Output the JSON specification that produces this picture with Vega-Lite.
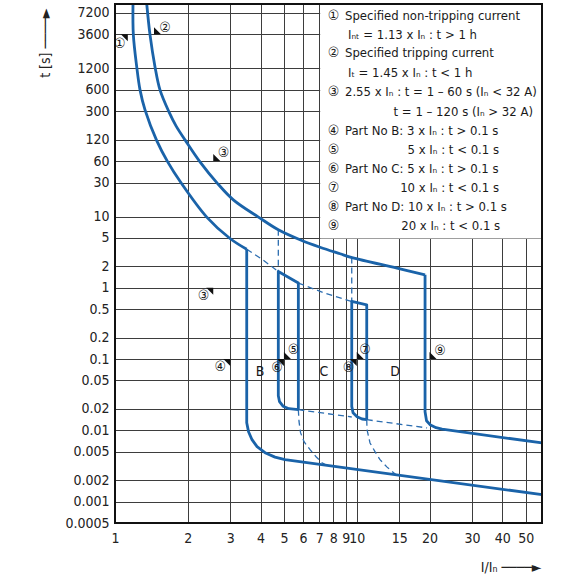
{
  "$schema": "https://vega.github.io/schema/vega-lite/v6.json",
  "width": 427,
  "height": 519,
  "autosize": "none",
  "padding": {"left": 115, "top": 4, "right": 38, "bottom": 57},
  "background": "white",
  "config": {
    "view": {"stroke": null},
    "font": "Liberation Sans Narrow, DejaVu Sans Condensed, Liberation Sans, sans-serif"
  },
  "datasets": {
    "box": [{"I": 7.06, "I2": 58.4, "t": 4.9, "t2": 9600}],
    "frame": [{"I": 1, "I2": 58.4, "t": 0.0005, "t2": 9600}],
    "curves": [
      {"s": "minTc", "st": "c", "o": 1, "I": 1.187, "t": 9600},
      {"s": "minTc", "st": "c", "o": 2, "I": 1.191, "t": 3535},
      {"s": "minTc", "st": "c", "o": 3, "I": 1.23, "t": 1258},
      {"s": "minTc", "st": "c", "o": 4, "I": 1.269, "t": 598.4},
      {"s": "minTc", "st": "c", "o": 5, "I": 1.331, "t": 313.7},
      {"s": "minTc", "st": "c", "o": 6, "I": 1.488, "t": 116.4},
      {"s": "minTc", "st": "c", "o": 7, "I": 1.652, "t": 58.5},
      {"s": "minTc", "st": "c", "o": 8, "I": 1.876, "t": 29.7},
      {"s": "minTc", "st": "c", "o": 9, "I": 2.396, "t": 9.81},
      {"s": "minTc", "st": "c", "o": 10, "I": 2.991, "t": 4.913},
      {"s": "minTc", "st": "c", "o": 11, "I": 3.507, "t": 3.467},
      {"s": "minTl", "st": "s", "o": 1, "I": 3.507, "t": 3.467},
      {"s": "minTl", "st": "s", "o": 2, "I": 3.507, "t": 0.01278},
      {"s": "minTl", "st": "s", "o": 3, "I": 3.568, "t": 0.00956},
      {"s": "minTl", "st": "s", "o": 4, "I": 3.688, "t": 0.00738},
      {"s": "minTl", "st": "s", "o": 5, "I": 3.869, "t": 0.00589},
      {"s": "minTl", "st": "s", "o": 6, "I": 4.175, "t": 0.00485},
      {"s": "minTl", "st": "s", "o": 7, "I": 4.591, "t": 0.0042},
      {"s": "minTl", "st": "s", "o": 8, "I": 5.05, "t": 0.00387},
      {"s": "minTl", "st": "s", "o": 9, "I": 58.4, "t": 0.00125},
      {"s": "maxTc", "st": "c", "o": 1, "I": 1.353, "t": 9600},
      {"s": "maxTc", "st": "c", "o": 2, "I": 1.396, "t": 3535},
      {"s": "maxTc", "st": "c", "o": 3, "I": 1.464, "t": 1258},
      {"s": "maxTc", "st": "c", "o": 4, "I": 1.535, "t": 598.4},
      {"s": "maxTc", "st": "c", "o": 5, "I": 1.672, "t": 294},
      {"s": "maxTc", "st": "c", "o": 6, "I": 1.788, "t": 187.3},
      {"s": "maxTc", "st": "c", "o": 7, "I": 1.955, "t": 117},
      {"s": "maxTc", "st": "c", "o": 8, "I": 2.247, "t": 58.5},
      {"s": "maxTc", "st": "c", "o": 9, "I": 2.642, "t": 29.7},
      {"s": "maxTc", "st": "c", "o": 10, "I": 3.087, "t": 17.15},
      {"s": "maxTc", "st": "c", "o": 11, "I": 3.906, "t": 9.9},
      {"s": "maxTc", "st": "c", "o": 12, "I": 4.738, "t": 6.507},
      {"s": "maxTc", "st": "c", "o": 13, "I": 5.827, "t": 4.712},
      {"s": "maxTc", "st": "c", "o": 14, "I": 7.05, "t": 3.699},
      {"s": "maxTc", "st": "c", "o": 15, "I": 8.531, "t": 2.999},
      {"s": "maxTc", "st": "c", "o": 16, "I": 9.563, "t": 2.652},
      {"s": "maxTc", "st": "c", "o": 17, "I": 14.68, "t": 1.889},
      {"s": "maxTc", "st": "c", "o": 18, "I": 19.17, "t": 1.522},
      {"s": "maxTl", "st": "s", "o": 1, "I": 19.17, "t": 1.522},
      {"s": "maxTl", "st": "s", "o": 2, "I": 19.17, "t": 0.01823},
      {"s": "maxTl", "st": "s", "o": 3, "I": 19.44, "t": 0.01363},
      {"s": "maxTl", "st": "s", "o": 4, "I": 20.1, "t": 0.01198},
      {"s": "maxTl", "st": "s", "o": 5, "I": 21.29, "t": 0.01088},
      {"s": "maxTl", "st": "s", "o": 6, "I": 22.54, "t": 0.01036},
      {"s": "maxTl", "st": "s", "o": 7, "I": 58.4, "t": 0.00664},
      {"s": "S3", "st": "s", "o": 1, "I": 5.734, "t": 0.01945},
      {"s": "S3", "st": "s", "o": 2, "I": 5.734, "t": 1.164},
      {"s": "S3", "st": "s", "o": 3, "I": 4.738, "t": 1.693},
      {"s": "S3", "st": "s", "o": 4, "I": 4.738, "t": 0.03057},
      {"s": "S3", "st": "s", "o": 5, "I": 4.793, "t": 0.02518},
      {"s": "S3", "st": "s", "o": 6, "I": 4.955, "t": 0.02178},
      {"s": "S3", "st": "s", "o": 7, "I": 5.246, "t": 0.02009},
      {"s": "S3", "st": "s", "o": 8, "I": 5.734, "t": 0.01945},
      {"s": "S4", "st": "s", "o": 1, "I": 11.0, "t": 0.01408},
      {"s": "S4", "st": "s", "o": 2, "I": 11.0, "t": 0.5774},
      {"s": "S4", "st": "s", "o": 3, "I": 9.536, "t": 0.6424},
      {"s": "S4", "st": "s", "o": 4, "I": 9.536, "t": 0.02164},
      {"s": "S4", "st": "s", "o": 5, "I": 9.654, "t": 0.01765},
      {"s": "S4", "st": "s", "o": 6, "I": 10.03, "t": 0.01551},
      {"s": "S4", "st": "s", "o": 7, "I": 10.52, "t": 0.0144},
      {"s": "S4", "st": "s", "o": 8, "I": 11.0, "t": 0.01408},
      {"s": "DA", "st": "d", "o": 1, "I": 3.507, "t": 3.467},
      {"s": "DA", "st": "d", "o": 2, "I": 4.057, "t": 2.51},
      {"s": "DA", "st": "d", "o": 3, "I": 4.738, "t": 1.693},
      {"s": "DB", "st": "d", "o": 1, "I": 5.734, "t": 1.164},
      {"s": "DB", "st": "d", "o": 2, "I": 7.395, "t": 0.8373},
      {"s": "DB", "st": "d", "o": 3, "I": 9.536, "t": 0.6424},
      {"s": "DC", "st": "d", "o": 1, "I": 4.738, "t": 6.507},
      {"s": "DC", "st": "d", "o": 2, "I": 4.738, "t": 1.693},
      {"s": "DD", "st": "d", "o": 1, "I": 9.536, "t": 2.66},
      {"s": "DD", "st": "d", "o": 2, "I": 9.536, "t": 0.6424},
      {"s": "DE1", "st": "d", "o": 1, "I": 5.734, "t": 0.01945},
      {"s": "DE1", "st": "d", "o": 2, "I": 9.536, "t": 0.01536},
      {"s": "DE2", "st": "d", "o": 1, "I": 11.0, "t": 0.01408},
      {"s": "DE2", "st": "d", "o": 2, "I": 19.54, "t": 0.0108},
      {"s": "DF", "st": "d", "o": 1, "I": 5.734, "t": 0.01945},
      {"s": "DF", "st": "d", "o": 2, "I": 5.772, "t": 0.0132},
      {"s": "DF", "st": "d", "o": 3, "I": 5.855, "t": 0.00926},
      {"s": "DF", "st": "d", "o": 4, "I": 6.054, "t": 0.00692},
      {"s": "DF", "st": "d", "o": 5, "I": 6.411, "t": 0.00534},
      {"s": "DF", "st": "d", "o": 6, "I": 6.787, "t": 0.00426},
      {"s": "DF", "st": "d", "o": 7, "I": 7.187, "t": 0.00351},
      {"s": "DF", "st": "d", "o": 8, "I": 7.466, "t": 0.00324},
      {"s": "DG", "st": "d", "o": 1, "I": 11.0, "t": 0.01408},
      {"s": "DG", "st": "d", "o": 2, "I": 11.03, "t": 0.0102},
      {"s": "DG", "st": "d", "o": 3, "I": 11.35, "t": 0.00664},
      {"s": "DG", "st": "d", "o": 4, "I": 11.9, "t": 0.00501},
      {"s": "DG", "st": "d", "o": 5, "I": 12.48, "t": 0.00387},
      {"s": "DG", "st": "d", "o": 6, "I": 13.35, "t": 0.00304},
      {"s": "DG", "st": "d", "o": 7, "I": 14.54, "t": 0.00238}
    ],
    "markers": [
      {"I": 1.13, "t": 3600, "d": "ur"},
      {"I": 1.45, "t": 3600, "d": "ll"},
      {"I": 2.55, "t": 60, "d": "ll"},
      {"I": 2.55, "t": 1, "d": "ur"},
      {"I": 3, "t": 0.1, "d": "ur"},
      {"I": 5, "t": 0.1, "d": "ll"},
      {"I": 5, "t": 0.1, "d": "ur"},
      {"I": 10, "t": 0.1, "d": "ll"},
      {"I": 10, "t": 0.1, "d": "ur"},
      {"I": 20, "t": 0.1, "d": "ll"}
    ],
    "nums": [
      {"I": 1.045, "t": 2620, "txt": "①"},
      {"I": 1.61, "t": 4388, "txt": "②"},
      {"I": 2.806, "t": 77.5, "txt": "③"},
      {"I": 2.32, "t": 0.772, "txt": "③"},
      {"I": 2.72, "t": 0.0762, "txt": "④"},
      {"I": 5.47, "t": 0.132, "txt": "⑤"},
      {"I": 4.67, "t": 0.0748, "txt": "⑥"},
      {"I": 10.82, "t": 0.135, "txt": "⑦"},
      {"I": 9.23, "t": 0.0748, "txt": "⑧"},
      {"I": 22.1, "t": 0.1307, "txt": "⑨"},
      {"I": 3.98, "t": 0.0649, "txt": "B"},
      {"I": 7.32, "t": 0.0649, "txt": "C"},
      {"I": 14.4, "t": 0.0649, "txt": "D"},
      {"I": 8.0, "t": 6530, "txt": "①"},
      {"I": 8.0, "t": 1957, "txt": "②"},
      {"I": 8.0, "t": 566.5, "txt": "③"},
      {"I": 8.0, "t": 160.8, "txt": "④"},
      {"I": 8.0, "t": 86.2, "txt": "⑤"},
      {"I": 8.0, "t": 46.7, "txt": "⑥"},
      {"I": 8.0, "t": 25.0, "txt": "⑦"},
      {"I": 8.0, "t": 13.55, "txt": "⑧"},
      {"I": 8.0, "t": 7.41, "txt": "⑨"}
    ],
    "legLeft": [
      {"I": 8.94, "t": 6530, "txt": "Specified non-tripping current"},
      {"I": 9.2, "t": 3535, "txt": "Iₙₜ = 1.13 x Iₙ : t > 1 h"},
      {"I": 8.94, "t": 1957, "txt": "Specified tripping current"},
      {"I": 9.2, "t": 1046, "txt": "Iₜ = 1.45 x Iₙ : t < 1 h"},
      {"I": 8.94, "t": 566.5, "txt": "2.55 x Iₙ : t = 1 – 60 s (Iₙ < 32 A)"},
      {"I": 8.94, "t": 160.8, "txt": "Part No B:  3 x Iₙ : t > 0.1 s"},
      {"I": 8.94, "t": 46.7, "txt": "Part No C:  5 x Iₙ : t > 0.1 s"},
      {"I": 8.94, "t": 13.55, "txt": "Part No D: 10 x Iₙ : t > 0.1 s"}
    ],
    "legRight": [
      {"I": 53.6, "t": 297, "txt": "t = 1 – 120 s (Iₙ > 32 A)"},
      {"I": 38.8, "t": 86.2, "txt": "5 x Iₙ : t < 0.1 s"},
      {"I": 38.8, "t": 25.0, "txt": "10 x Iₙ : t < 0.1 s"},
      {"I": 39.2, "t": 7.41, "txt": "20 x Iₙ : t < 0.1 s"}
    ]
  },
  "encoding": {
    "x": {
      "field": "I", "type": "quantitative",
      "scale": {"type": "log", "domain": [1, 58.4], "nice": false},
      "axis": {
        "values": [1, 2, 3, 4, 5, 6, 7, 8, 9, 10, 15, 20, 30, 40, 50],
        "format": "~g", "grid": true, "gridColor": "#3d3d3d", "gridWidth": 1,
        "domain": false, "ticks": false, "labelPadding": 8, "labelFontSize": 14,
        "labelColor": "#222", "labelOverlap": false, "labelFlush": false,
        "title": "I/Iₙ   ────►", "titleFontSize": 14, "titleFontWeight": "normal",
        "titleColor": "#222", "titleAnchor": "end", "titleAlign": "right",
        "titleX": 426, "titleY": 44, "titleBaseline": "middle"
      }
    },
    "y": {
      "field": "t", "type": "quantitative",
      "scale": {"type": "log", "domain": [0.0005, 9600], "nice": false},
      "axis": {
        "values": [0.0005, 0.001, 0.002, 0.005, 0.01, 0.02, 0.05, 0.1, 0.2, 0.5, 1, 2, 5, 10, 30, 60, 120, 300, 600, 1200, 3600, 7200],
        "format": "~g", "grid": true, "gridColor": "#3d3d3d", "gridWidth": 1,
        "domain": false, "ticks": false, "labelPadding": 6, "labelFontSize": 14,
        "labelColor": "#222", "labelOverlap": false, "labelFlush": false,
        "title": "t [s]   ────►", "titleFontSize": 14, "titleFontWeight": "normal",
        "titleColor": "#222", "titleAngle": 270, "titleAlign": "right",
        "titleAnchor": "end", "titleX": -70, "titleY": 4, "titleBaseline": "middle"
      }
    }
  },
  "layer": [
    {
      "data": {"name": "box"},
      "mark": {"type": "rect", "color": "white", "opacity": 1},
      "encoding": {"x2": {"field": "I2"}, "y2": {"field": "t2"}}
    },
    {
      "data": {"name": "curves"},
      "transform": [{"filter": "datum.st === 'd'"}],
      "mark": {"type": "line", "color": "#2c6db0", "strokeWidth": 1.3, "strokeDash": [6, 4]},
      "encoding": {"detail": {"field": "s"}, "order": {"field": "o"}}
    },
    {
      "data": {"name": "curves"},
      "transform": [{"filter": "datum.st === 's'"}],
      "mark": {"type": "line", "color": "#1a63a9", "strokeWidth": 2.8, "strokeJoin": "round"},
      "encoding": {"detail": {"field": "s"}, "order": {"field": "o"}}
    },
    {
      "data": {"name": "curves"},
      "transform": [{"filter": "datum.st === 'c'"}],
      "mark": {"type": "line", "color": "#1a63a9", "strokeWidth": 2.8, "strokeJoin": "round", "interpolate": "catmull-rom"},
      "encoding": {"detail": {"field": "s"}, "order": {"field": "o"}}
    },
    {
      "data": {"name": "markers"},
      "mark": {"type": "point", "filled": true, "color": "#111", "size": 196, "opacity": 1},
      "encoding": {
        "shape": {"field": "d", "type": "nominal", "scale": {"domain": ["ll", "ur"], "range": ["M0,0L0,-1L1,0Z", "M0,0L-1,0L0,1Z"]}, "legend": null}
      }
    },
    {
      "data": {"name": "nums"},
      "mark": {"type": "text", "fontSize": 14, "color": "#1a1a1a", "align": "center", "baseline": "middle"},
      "encoding": {"text": {"field": "txt"}}
    },
    {
      "data": {"name": "legLeft"},
      "mark": {"type": "text", "fontSize": 13, "color": "#1a1a1a", "align": "left", "baseline": "middle"},
      "encoding": {"text": {"field": "txt"}}
    },
    {
      "data": {"name": "legRight"},
      "mark": {"type": "text", "fontSize": 13, "color": "#1a1a1a", "align": "right", "baseline": "middle"},
      "encoding": {"text": {"field": "txt"}}
    },
    {
      "data": {"name": "frame"},
      "mark": {"type": "rect", "fill": "white", "fillOpacity": 0, "stroke": "#111", "strokeWidth": 2},
      "encoding": {"x2": {"field": "I2"}, "y2": {"field": "t2"}}
    }
  ]
}
